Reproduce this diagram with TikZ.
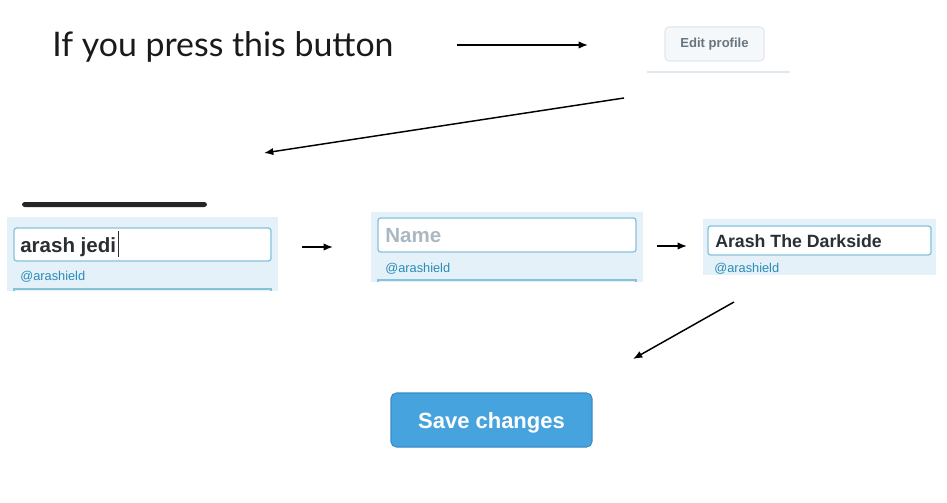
\documentclass[tikz,border=0pt]{standalone}
\usepackage{fontspec}
\setmainfont{Liberation Sans}
\newfontfamily\titlefont{Lato}
\usetikzlibrary{arrows.meta,fit}
\definecolor{panelbg}{HTML}{E4F1F8}
\definecolor{inputborder}{HTML}{86C3DB}
\definecolor{handle}{HTML}{2A8BB8}
\definecolor{savefill}{HTML}{47A3DE}
\definecolor{saveborder}{HTML}{3A8CC6}
\definecolor{editfill}{HTML}{F5F8FA}
\definecolor{editborder}{HTML}{E1E8ED}
\definecolor{edittext}{HTML}{66757F}
\definecolor{placeholder}{HTML}{AAB8C2}
\definecolor{darktext}{HTML}{292F33}
\definecolor{titlegray}{HTML}{1A1A1A}
\tikzset{
  flow/.style={line width=1.1pt,-{Latex[length=7pt,width=5.5pt]}},
  panel/.style={fill=panelbg,draw=none,inner sep=0pt},
  inputbox/.style={fill=white,draw=inputborder,line width=1pt,rounded corners=2pt,inner sep=0pt},
  handletext/.style={anchor=base west,inner sep=0pt,text=handle,font=\fontsize{9.6pt}{11pt}\selectfont},
  fieldtext/.style={anchor=base west,inner sep=0pt,font=\bfseries\fontsize{15.4pt}{18pt}\selectfont},
}
\begin{document}
\begin{tikzpicture}[x=0.75pt,y=-0.75pt]
\useasboundingbox (0,0) rectangle (947,503);
% title
\node[anchor=base west,inner sep=0pt,text=titlegray,font=\titlefont\fontsize{25.4pt}{30pt}\selectfont] (title) at (52,57) {If you press this button};
% edit profile button
\node[fit={(665,27)(764,61)},fill=editfill,draw=editborder,line width=0.8pt,rounded corners=3pt,inner sep=0pt] (edit) {};
\node[text=edittext,font=\bfseries\fontsize{9.8pt}{12pt}\selectfont,inner sep=0pt] (edittxt) at (edit.center) {Edit profile};
\draw[editborder,line width=1pt] (647,72) -- (790,72);
\coordinate (a1s) at (457,45);
\coordinate (a1e) at (588,45);
\draw[flow] (a1s) -- (a1e);
% big arrow
\coordinate (a2s) at (624,98);
\coordinate (a2e) at (264,153);
\draw[flow] (a2s) -- (a2e);
% panel 1
\fill[black!85,rounded corners=2pt] (22,202) rectangle (207,207);
\node[panel,fit={(7,217)(278,291)}] (p1) {};
\node[inputbox,fit={(14,228)(271,261)}] (in1) {};
\draw[inputborder,line width=1pt] (14,291) -- (14,289) -- (271,289) -- (271,291);
\node[fieldtext,text=darktext] (t1) at (20,252) {arash jedi};
\draw[darktext,line width=0.8pt] ([xshift=1.5pt]t1.base east) ++(0,5) -- ++(0,-26);
\node[handletext] (h1) at (20,280) {@arashield};
\coordinate (a3s) at (302,247);
\coordinate (a3e) at (333,247);
\draw[flow] (a3s) -- (a3e);
% panel 2
\node[panel,fit={(371,212)(643,282)}] (p2) {};
\node[inputbox,fit={(378,218)(636,252)}] (in2) {};
\draw[inputborder,line width=1pt] (378,282) -- (378,280) -- (636,280) -- (636,282);
\node[fieldtext,text=placeholder] (t2) at (385,243) {Name};
\node[handletext] (h2) at (385,272) {@arashield};
\coordinate (a4s) at (657,246);
\coordinate (a4e) at (687,246);
\draw[flow] (a4s) -- (a4e);
% panel 3
\node[panel,fit={(703,219)(936,275)}] (p3) {};
\node[inputbox,fit={(708,226)(931,255)}] (in3) {};
\node[anchor=base west,inner sep=0pt,text=darktext,font=\bfseries\fontsize{13.3pt}{16pt}\selectfont] (t3) at (715,247) {Arash The Darkside};
\node[handletext] (h3) at (714,272) {@arashield};
\coordinate (a5s) at (734,302);
\coordinate (a5e) at (633,359);
\draw[flow] (a5s) -- (a5e);
% save button
\node[fit={(391,393)(592,447)},fill=savefill,draw=saveborder,line width=0.8pt,rounded corners=4pt,inner sep=0pt] (save) {};
\node[text=white,font=\bfseries\fontsize{16.5pt}{20pt}\selectfont,inner sep=0pt,yshift=-2.5pt] (savetxt) at (save.center) {Save changes};
\end{tikzpicture}
\end{document}
